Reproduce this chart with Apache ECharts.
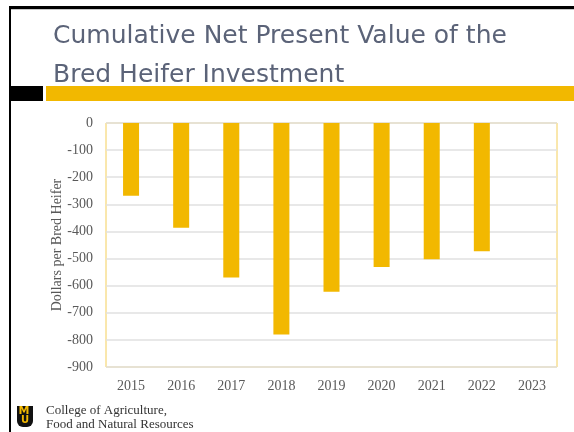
<!DOCTYPE html>
<html>
<head>
<meta charset="utf-8">
<script src="https://cdn.jsdelivr.net/npm/echarts@6/dist/echarts.min.js"></script>
<style>
html, body { margin: 0; padding: 0; background: #fff; }
#chart { width: 574px; height: 432px; }
</style>
</head>
<body>
<div id="chart"></div>
<script>
// 数据
var years = ["2015", "2016", "2017", "2018", "2019", "2020", "2021", "2022", "2023"]
var npvValues = [-268, -386, -570, -780, -622, -531, -503, -473, null]
var titleLines = ["Cumulative Net Present Value of the", "Bred Heifer Investment"]
var footerLines = ["College of Agriculture,", "Food and Natural Resources"]

var chart = echarts.init(document.getElementById("chart"))

var option = {
    backgroundColor: "#fff",
    animation: false,
    grid: {
        left: 106,
        right: 17,
        top: 123,
        bottom: 65,
        show: true,
        borderColor: "#f4cf5a",
        borderWidth: 1
    },
    xAxis: {
        type: "category",
        data: years,
        axisLine: { show: false },
        axisTick: { show: false },
        axisLabel: {
            fontFamily: "Liberation Serif",
            fontSize: 14,
            color: "#595959",
            margin: 12
        }
    },
    yAxis: {
        type: "value",
        min: -900,
        max: 0,
        interval: 100,
        name: "Dollars per Bred Heifer",
        nameLocation: "middle",
        nameGap: 42,
        nameMoveOverlap: false,
        nameTextStyle: {
            fontFamily: "Liberation Serif",
            fontSize: 14,
            color: "#595959"
        },
        axisLine: { show: false },
        axisTick: { show: false },
        axisLabel: {
            fontFamily: "Liberation Serif",
            fontSize: 14,
            color: "#595959",
            margin: 13
        },
        splitLine: { lineStyle: { color: "#e0e0e0", width: 1.5 } }
    },
    series: [
        {
            type: "bar",
            data: npvValues,
            barWidth: 16,
            itemStyle: { color: "#f2b800" }
        }
    ],
    graphic: [
        // 边框
        { type: "rect", shape: { x: 9, y: 6, width: 565, height: 3 }, style: { fill: "#000" } },
        { type: "rect", shape: { x: 9, y: 9, width: 565, height: 1 }, style: { fill: "#c8c8c8" } },
        { type: "rect", shape: { x: 9, y: 6, width: 2, height: 426 }, style: { fill: "#000" } },
        { type: "rect", shape: { x: 9, y: 86, width: 34, height: 15 }, style: { fill: "#000" } },
        { type: "rect", shape: { x: 46, y: 86, width: 528, height: 15 }, style: { fill: "#f2b800" } },
        // 标题
        {
            type: "text", left: 53, top: 24,
            style: { text: titleLines[0], font: "25px 'DejaVu Sans'", fill: "#5b6378" }
        },
        {
            type: "text", left: 53, top: 63,
            style: { text: titleLines[1], font: "25px 'DejaVu Sans'", fill: "#5b6378" }
        },
        // 校徽
        { type: "rect", shape: { x: 17, y: 406, width: 16, height: 21, r: [0, 0, 6, 6] }, style: { fill: "#111" } },
        {
            type: "text", left: 18.5, top: 406,
            style: { text: "M", font: "bold 11px 'DejaVu Sans'", fill: "#f2b800" }
        },
        {
            type: "text", left: 21, top: 415.5,
            style: { text: "U", font: "bold 10px 'DejaVu Sans'", fill: "#f2b800" }
        },
        {
            type: "text", left: 46, top: 404,
            style: { text: footerLines[0], font: "13px 'Liberation Serif'", fill: "#333" }
        },
        {
            type: "text", left: 46, top: 418,
            style: { text: footerLines[1], font: "13px 'Liberation Serif'", fill: "#333" }
        }
    ]
}

chart.setOption(option)
</script>
</body>
</html>
